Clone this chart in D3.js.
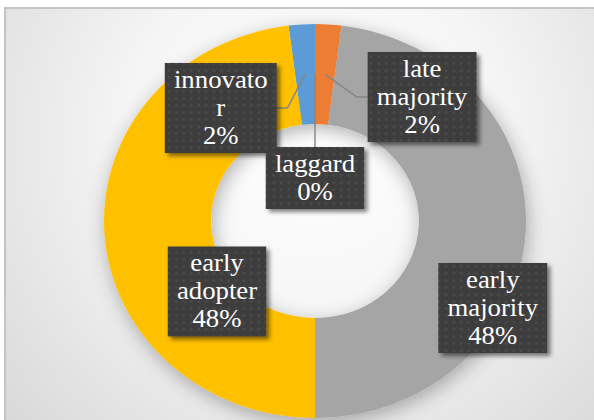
<!DOCTYPE html>
<html>
<head>
<meta charset="utf-8">
<script src="https://cdn.jsdelivr.net/npm/d3@7"></script>
<style>
  body { margin: 0; background: #fff; }
  svg { display: block; }
</style>
</head>
<body>
<div id="chart"></div>
<script>
// Chart data
const categories = ["innovator", "laggard", "late majority", "early majority", "early adopter"];
const shares = [2, 0, 2, 48, 48];
const sliceColors = ["#5B9BD5", "#7F7F7F", "#ED7D31", "#A5A5A5", "#FFC000"];

// Layout
const width = 594, height = 420;
const cx = 315, cy = 221;
const stretch = 1.071;           // the picture is a little wider than tall
const outerR = 197, innerR = 97;

// label box centres, relative to the donut centre (unstretched units)
const labelOffsets = [[-88, -113], [0, -43], [100, -124], [166, 87], [-91.5, 70.5]];
const showLeader = [true, true, true, false, false];

const fontSize = 25, lineH = 28, padX = 8.5, padY = 3, maxLine = 92, elbow = 10;
const fontFamily = '"Liberation Serif", "Times New Roman", serif';

// measure label text on a canvas, so the svg text is never laid out early
const ctx = document.createElement("canvas").getContext("2d");
ctx.font = `${fontSize}px ${fontFamily}`;
function measure(str) {
    return ctx.measureText(str).width;
}

function wrap(name) {
    const lines = [];
    let current = "";
    name.split(" ").forEach(word => {
        const cand = current ? current + " " + word : word;
        if (measure(cand) <= maxLine) {
            current = cand;
        } else {
            if (current) lines.push(current);
            current = word;
        }
        // break over-long words by character
        while (measure(current) > maxLine) {
            let k = current.length - 1;
            while (k > 1 && measure(current.slice(0, k)) > maxLine) k--;
            lines.push(current.slice(0, k));
            current = current.slice(k);
        }
    });
    if (current) lines.push(current);
    return lines;
}

const svg = d3.select("#chart")
    .append("svg")
    .attr("width", width)
    .attr("height", height);

const defs = svg.append("defs");

// background gradient
const bg = defs.append("radialGradient")
    .attr("id", "bg")
    .attr("gradientUnits", "userSpaceOnUse")
    .attr("cx", 315).attr("cy", 140).attr("r", 470);
bg.append("stop").attr("offset", "0").attr("stop-color", "#ffffff");
bg.append("stop").attr("offset", "0.4").attr("stop-color", "#f5f5f5");
bg.append("stop").attr("offset", "1").attr("stop-color", "#d2d2d2");

// soft shadow under the ring
const ds = defs.append("filter").attr("id", "donutShadow")
    .attr("x", "-30%").attr("y", "-30%").attr("width", "160%").attr("height", "160%");
ds.append("feDropShadow")
    .attr("dx", 2).attr("dy", 5).attr("stdDeviation", 9)
    .attr("flood-color", "#000").attr("flood-opacity", 0.3);

// shadow under label boxes
const bs = defs.append("filter").attr("id", "boxShadow")
    .attr("x", "-20%").attr("y", "-20%").attr("width", "140%").attr("height", "140%");
bs.append("feDropShadow")
    .attr("dx", 3).attr("dy", 3).attr("stdDeviation", 2)
    .attr("flood-color", "#000").attr("flood-opacity", 0.5);

// dotted fill of the label boxes
const pat = defs.append("pattern").attr("id", "dots")
    .attr("patternUnits", "userSpaceOnUse")
    .attr("width", 7).attr("height", 7);
pat.append("rect").attr("width", 7).attr("height", 7).attr("fill", "#3e3e3e");
pat.append("circle").attr("cx", 3.5).attr("cy", 3.5).attr("r", 1.2).attr("fill", "#4b4b4b");

// chart frame
svg.append("rect")
    .attr("x", 5).attr("y", 8)
    .attr("width", width).attr("height", height)
    .attr("fill", "url(#bg)")
    .attr("stroke", "#c4c4c4")
    .attr("stroke-width", 2);

const g = svg.append("g")
    .attr("transform", `translate(${cx},${cy}) scale(${stretch},1)`);

const total = d3.sum(shares);
const start = -2 * Math.PI * shares[0] / total;   // first slice ends at 12 o'clock

const pie = d3.pie()
    .sort(null)
    .startAngle(start)
    .endAngle(start + 2 * Math.PI);
const arcs = pie(shares);

const arc = d3.arc()
    .innerRadius(innerR)
    .outerRadius(outerR);

g.append("g")
    .attr("filter", "url(#donutShadow)")
    .selectAll("path")
    .data(arcs)
    .join("path")
    .attr("d", arc)
    .attr("fill", (d, i) => sliceColors[i]);

const leaderG = g.append("g");
const boxG = g.append("g");

arcs.forEach((d, i) => {
    const pct = Math.round(d.data / total * 100) + "%";
    const lines = wrap(categories[i]).concat([pct]);
    const w = d3.max(lines, measure) + 2 * padX;
    const h = lines.length * lineH + 2 * padY;
    const [ox, oy] = labelOffsets[i];
    const left = ox - w / 2, top = oy - h / 2, right = ox + w / 2;

    if (showLeader[i]) {
        const [px, py] = arc.centroid(d);
        let pts;
        if (px >= left && px <= right) {
            pts = [[px, top], [px, py]];
        } else if (px > right) {
            pts = [[right, oy], [right + elbow, oy], [px, py]];
        } else {
            pts = [[left, oy], [left - elbow, oy], [px, py]];
        }
        leaderG.append("path")
            .attr("d", d3.line()(pts))
            .attr("fill", "none")
            .attr("stroke", "#858585")
            .attr("stroke-width", 1.3);
    }

    boxG.append("rect")
        .attr("x", left).attr("y", top)
        .attr("width", w).attr("height", h)
        .attr("fill", "url(#dots)")
        .attr("filter", "url(#boxShadow)");

    const text = boxG.append("text")
        .style("font-family", fontFamily)
        .style("font-size", fontSize + "px")
        .attr("fill", "#ffffff")
        .attr("text-anchor", "middle");
    lines.forEach((ln, j) => {
        text.append("tspan")
            .attr("x", ox)
            .attr("y", top + padY + lineH * j + 22)
            .text(ln);
    });
});
</script>
</body>
</html>
